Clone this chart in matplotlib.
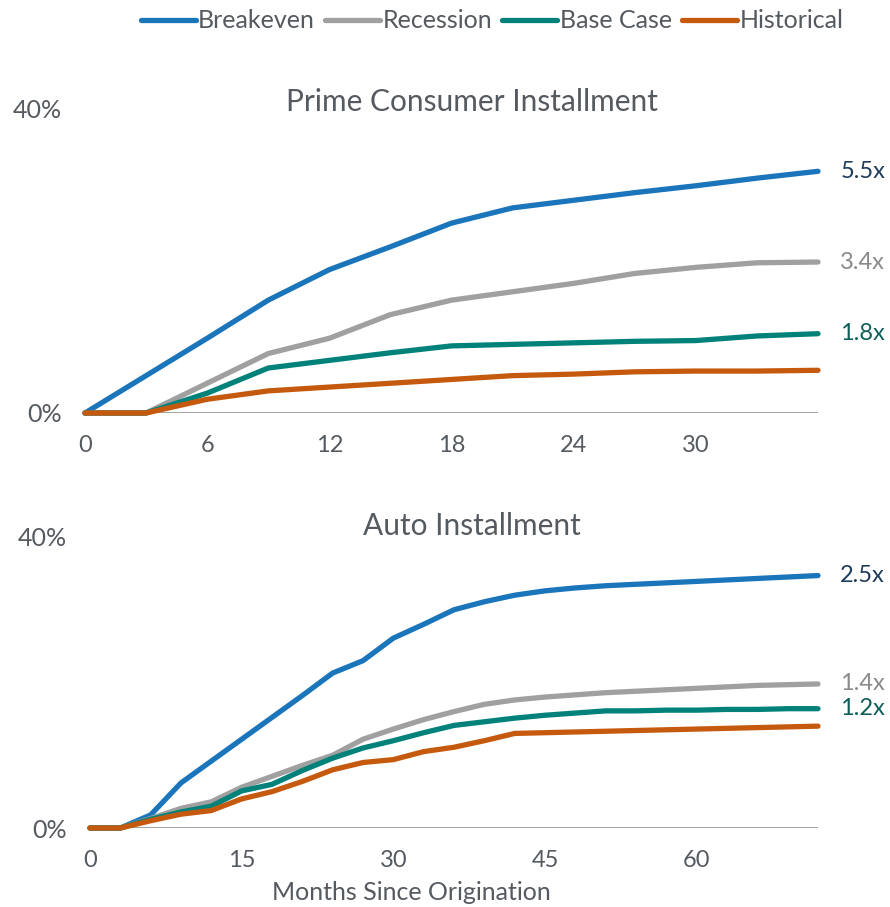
import matplotlib
matplotlib.use("Agg")
import matplotlib.pyplot as plt
from matplotlib.ticker import FixedLocator, FuncFormatter

# --- data (cumulative loss %) ---
series = ["Breakeven", "Recession", "Base Case", "Historical"]
colors = ["#1B75BB", "#A0A0A0", "#00827A", "#C55A0F"]
label_colors = ["#1F3B5C", "#8A8A8A", "#0E5F5A"]

prime_months = [0, 3, 6, 9, 12, 15, 18, 21, 24, 27, 30, 33, 36]
prime_breakeven = [0, 4.9, 9.8, 14.8, 18.8, 21.8, 24.9, 26.9, 27.9, 28.9, 29.8, 30.8, 31.7]
prime_recession = [0, 0, 3.9, 7.8, 9.8, 12.9, 14.8, 15.9, 17.0, 18.3, 19.1, 19.7, 19.8]
prime_base = [0, 0, 2.6, 5.9, 6.9, 7.9, 8.8, 9.0, 9.2, 9.4, 9.5, 10.1, 10.4]
prime_hist = [0, 0, 1.8, 2.9, 3.4, 3.9, 4.4, 4.9, 5.1, 5.4, 5.5, 5.5, 5.6]
prime_mult = ["5.5x", "3.4x", "1.8x"]

auto_months = [0, 3, 6, 9, 12, 15, 18, 21, 24, 27, 30, 33, 36, 39, 42, 45, 48,
               51, 54, 57, 60, 63, 66, 69, 72]
auto_breakeven = [0, 0, 1.8, 6.2, 9.2, 12.2, 15.2, 18.2, 21.3, 23.0, 26.1, 28.0, 30.0,
                  31.1, 32.0, 32.6, 33.0, 33.3, 33.5, 33.7, 33.9, 34.1, 34.3, 34.5, 34.7]
auto_recession = [0, 0, 1.3, 2.7, 3.6, 5.6, 7.1, 8.6, 10.0, 12.2, 13.6, 14.9, 16.0,
                  17.0, 17.6, 18.0, 18.3, 18.6, 18.8, 19.0, 19.2, 19.4, 19.6, 19.7, 19.8]
auto_base = [0, 0, 1.2, 2.2, 3.0, 5.1, 6.0, 7.9, 9.6, 11.0, 12.0, 13.1, 14.1,
             14.6, 15.1, 15.5, 15.8, 16.1, 16.1, 16.2, 16.2, 16.3, 16.3, 16.4, 16.4]
auto_hist = [0, 0, 1.0, 1.9, 2.4, 4.0, 5.0, 6.4, 8.0, 9.0, 9.4, 10.5, 11.1,
             12.0, 13.0, 13.1, 13.2, 13.3, 13.4, 13.5, 13.6, 13.7, 13.8, 13.9, 14.0]
auto_mult = ["2.5x", "1.4x", "1.2x"]

plt.rcParams['font.family'] = ['Lato', 'DejaVu Sans']
txt = "#555a60"

W, H = 890, 907
fig = plt.figure(figsize=(W / 100, H / 100), dpi=100)


def px_axes(x0, x1, y0, y1):
    # pixel box (top-left origin) -> figure axes
    return fig.add_axes([x0 / W, 1 - y0 / H, (x1 - x0) / W, (y0 - y1) / H])


def panel(ax, months, ys, mult, xmax, xticks, title, title_y):
    for y, c, name in zip(ys, colors, series):
        ax.plot(months, y, color=c, lw=3.8, solid_capstyle='round',
                solid_joinstyle='round', label=name, zorder=3, clip_on=False)
    ax.axhline(0, color="#9a9a9a", lw=2, zorder=1)
    ax.set_xlim(0, xmax)
    ax.set_ylim(0, 40)
    for s in ax.spines.values():
        s.set_visible(False)
    ax.xaxis.set_major_locator(FixedLocator(xticks))
    ax.yaxis.set_major_locator(FixedLocator([0, 40]))
    ax.yaxis.set_major_formatter(FuncFormatter(lambda v, p: f"{v:.0f}%"))
    ax.tick_params(length=0, labelcolor=txt)
    ax.tick_params(axis='y', pad=17, labelsize=18)
    ax.tick_params(axis='x', pad=16, labelsize=17)
    for y, lab, lc in zip(ys[:3], mult, label_colors):
        ax.annotate(lab, xy=(months[-1], y[-1]), xytext=(16, 0),
                    textcoords='offset points', va='center', ha='left',
                    fontsize=17, color=lc, annotation_clip=False)
    fig.text(472 / W, 1 - title_y / H, title, ha='center',
             va='center', fontsize=21.5, color=txt)


ax1 = px_axes(85, 818, 413, 108)
panel(ax1, prime_months, [prime_breakeven, prime_recession, prime_base, prime_hist],
      prime_mult, 36, [0, 6, 12, 18, 24, 30], "Prime Consumer Installment", 102)

ax2 = px_axes(90, 818, 828, 537)
panel(ax2, auto_months, [auto_breakeven, auto_recession, auto_base, auto_hist],
      auto_mult, 72, [0, 15, 30, 45, 60], "Auto Installment", 526)
fig.text(411 / W, 1 - 893 / H, "Months Since Origination", ha='center', va='center',
         fontsize=18, color=txt)

handles, labels = ax1.get_legend_handles_labels()
fig.legend(handles, labels, loc='center', bbox_to_anchor=(492 / W, 1 - 21 / H), ncol=4,
           frameon=False, fontsize=18, handlelength=2.2, handletextpad=0.1,
           columnspacing=0.4, labelcolor=txt)

fig.savefig("out.png", dpi=100)
